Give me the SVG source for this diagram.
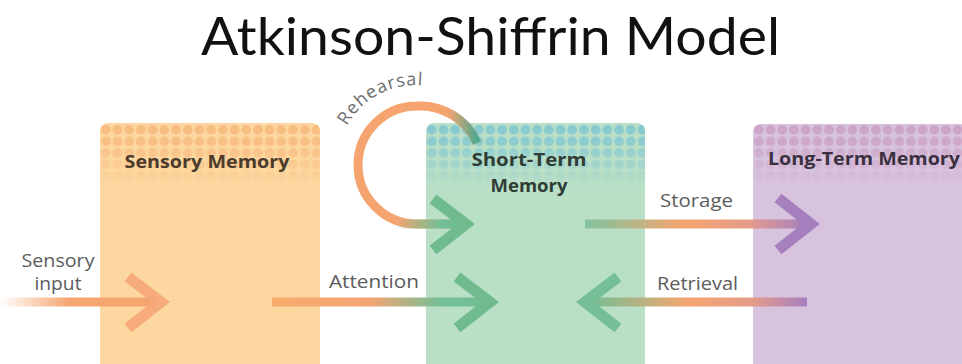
<svg xmlns="http://www.w3.org/2000/svg" width="962" height="364" viewBox="0 0 962 364">
<style>
.title{font-family:Lato,"Liberation Sans",sans-serif;font-size:53px;fill:#111}
.head{font-family:"Open Sans","Liberation Sans",sans-serif;font-weight:700;font-size:18.5px}
.lbl{font-family:"Open Sans","Liberation Sans",sans-serif;font-size:18px;fill:#5c5c5c}
.reh{font-family:"Open Sans","Liberation Sans",sans-serif;font-size:18px;fill:#6e6e6e}
.chev{fill:none;stroke-width:11;stroke-linejoin:miter;stroke-linecap:butt}
.bar{fill:none;stroke-width:9}
</style>
<defs>
  <pattern id="pS" x="100" y="124" width="11.7" height="11.6" patternUnits="userSpaceOnUse"><circle cx="5.85" cy="5.8" r="4.9" fill="#f7bb80"/></pattern>
  <pattern id="pT" x="426" y="124" width="11.7" height="11.6" patternUnits="userSpaceOnUse"><circle cx="5.85" cy="5.8" r="4.9" fill="#86c9d0"/></pattern>
  <pattern id="pL" x="753" y="124" width="11.7" height="11.6" patternUnits="userSpaceOnUse"><circle cx="5.85" cy="5.8" r="4.9" fill="#cba3c6"/></pattern>
  <linearGradient id="fade" x1="0" y1="124" x2="0" y2="186" gradientUnits="userSpaceOnUse">
    <stop offset="0" stop-color="#fff"/><stop offset="0.3" stop-color="#fff" stop-opacity="0.85"/><stop offset="1" stop-color="#fff" stop-opacity="0"/>
  </linearGradient>
  <mask id="mk" maskUnits="userSpaceOnUse" x="0" y="0" width="962" height="364"><rect x="0" y="120" width="962" height="68" fill="url(#fade)"/></mask>
  <linearGradient id="gIn" x1="0" y1="0" x2="70" y2="0" gradientUnits="userSpaceOnUse">
    <stop offset="0" stop-color="#f6a56f" stop-opacity="0"/><stop offset="1" stop-color="#f6a56f"/>
  </linearGradient>
  <linearGradient id="gAtt" x1="272" y1="0" x2="470" y2="0" gradientUnits="userSpaceOnUse">
    <stop offset="0" stop-color="#f6ab6c"/><stop offset="0.5" stop-color="#f4a474"/><stop offset="0.85" stop-color="#74bf96"/><stop offset="1" stop-color="#72bf96"/>
  </linearGradient>
  <linearGradient id="gSto" x1="585" y1="0" x2="805" y2="0" gradientUnits="userSpaceOnUse">
    <stop offset="0" stop-color="#80c49e"/><stop offset="0.45" stop-color="#f6a56f"/><stop offset="0.75" stop-color="#e49c8a"/><stop offset="1" stop-color="#a67fbf"/>
  </linearGradient>
  <linearGradient id="gRet" x1="590" y1="0" x2="807" y2="0" gradientUnits="userSpaceOnUse">
    <stop offset="0" stop-color="#74bf96"/><stop offset="0.45" stop-color="#f6a56f"/><stop offset="0.75" stop-color="#e49c8a"/><stop offset="1" stop-color="#a67fbf"/>
  </linearGradient>
  <linearGradient id="gRs" x1="477" y1="0" x2="448" y2="0" gradientUnits="userSpaceOnUse">
    <stop offset="0" stop-color="#4fa98f"/><stop offset="1" stop-color="#4fa98f" stop-opacity="0"/>
  </linearGradient>
  <linearGradient id="gRe" x1="395" y1="0" x2="440" y2="0" gradientUnits="userSpaceOnUse">
    <stop offset="0" stop-color="#72bf96" stop-opacity="0"/><stop offset="1" stop-color="#72bf96"/>
  </linearGradient>
  <path id="rehPath" d="M 347 126 A 78 78 0 0 1 436 88"/>
</defs>

<rect x="0" y="0" width="962" height="364" fill="#ffffff"/>

<text class="title" x="201" y="55" textLength="579" lengthAdjust="spacingAndGlyphs">Atkinson-Shiffrin Model</text>

<g id="sensory-memory">
  <rect x="100" y="123" width="220" height="250" rx="8" fill="#fdd7a0"/>
  <rect x="100" y="123" width="220" height="66" rx="8" fill="url(#pS)" mask="url(#mk)"/>
  <text class="head" x="207" y="168" text-anchor="middle" fill="#4b3b2c" textLength="165" lengthAdjust="spacingAndGlyphs">Sensory Memory</text>
</g>

<g id="short-term-memory">
  <rect x="426" y="123" width="219" height="250" rx="8" fill="#b9dfc7"/>
  <rect x="426" y="123" width="219" height="66" rx="8" fill="url(#pT)" mask="url(#mk)"/>
  <text class="head" x="529" y="166" text-anchor="middle" fill="#2f3d36" textLength="115" lengthAdjust="spacingAndGlyphs">Short-Term</text>
  <text class="head" x="529" y="192" text-anchor="middle" fill="#2f3d36">Memory</text>
</g>

<g id="long-term-memory">
  <rect x="753" y="124" width="220" height="250" rx="8" fill="#d8c3de"/>
  <rect x="753" y="124" width="220" height="66" rx="8" fill="url(#pL)" mask="url(#mk)"/>
  <text class="head" x="768" y="165" fill="#3b3040" textLength="192" lengthAdjust="spacingAndGlyphs">Long-Term Memory</text>
</g>

<g id="connectors">
  <!-- sensory input -->
  <line class="bar" x1="0" y1="302" x2="156" y2="302" stroke="url(#gIn)"/>
  <polyline class="chev" points="128,277 161,302 128,328" stroke="#f6a678" stroke-opacity="0.9"/>
  <text class="lbl" x="58" y="267" text-anchor="middle" textLength="73" lengthAdjust="spacingAndGlyphs">Sensory</text>
  <text class="lbl" x="58" y="290" text-anchor="middle" textLength="47" lengthAdjust="spacingAndGlyphs">input</text>

  <!-- attention -->
  <line class="bar" x1="272" y1="302" x2="486" y2="302" stroke="url(#gAtt)"/>
  <polyline class="chev" points="457,277 490,302 457,328" stroke="#6fbb8e"/>
  <text class="lbl" x="329" y="288" textLength="90" lengthAdjust="spacingAndGlyphs">Attention</text>

  <!-- rehearsal loop -->
  <path class="bar" d="M 477 143 A 62 62 0 0 0 417 106 A 59 59 0 0 0 358 165 A 59 59 0 0 0 417 224 L 462 224" stroke="#f5a46f"/>
  <path class="bar" d="M 477 143 A 62 62 0 0 0 447 112" stroke="url(#gRs)"/>
  <line class="bar" x1="395" y1="224" x2="462" y2="224" stroke="url(#gRe)"/>
  <polyline class="chev" points="433,199 466,224 433,250" stroke="#6fbb8e"/>
  <text class="reh"><textPath href="#rehPath" textLength="90" lengthAdjust="spacing">Rehearsal</textPath></text>

  <!-- storage -->
  <line class="bar" x1="585" y1="224" x2="808" y2="224" stroke="url(#gSto)"/>
  <polyline class="chev" points="778,198 811,224 778,250" stroke="#a67fbf"/>
  <text class="lbl" x="660" y="207" textLength="73" lengthAdjust="spacingAndGlyphs">Storage</text>

  <!-- retrieval -->
  <line class="bar" x1="590" y1="302" x2="807" y2="302" stroke="url(#gRet)"/>
  <polyline class="chev" points="618,277 585,302 618,328" stroke="#74bf96"/>
  <text class="lbl" x="657" y="290" textLength="81" lengthAdjust="spacingAndGlyphs">Retrieval</text>
</g>
</svg>
